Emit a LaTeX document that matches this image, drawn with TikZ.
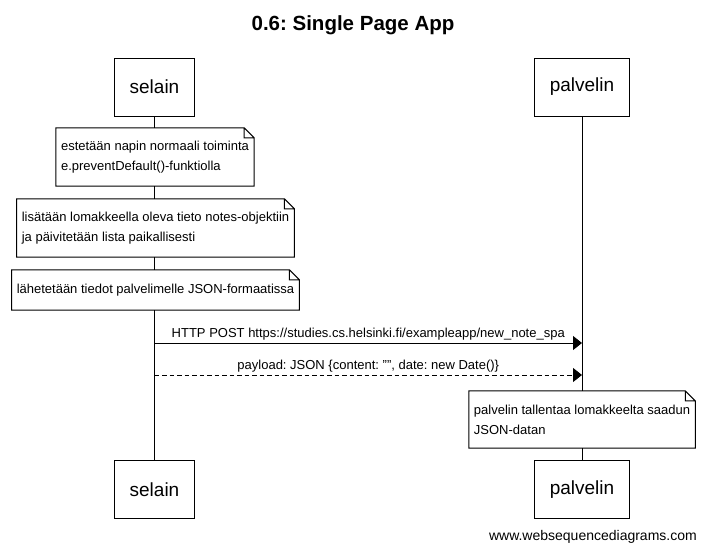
\documentclass[tikz,border=0pt]{standalone}
\usepackage{fontspec}
\setmainfont{Liberation Sans}
\usetikzlibrary{arrows.meta}

\tikzset{
  actor/.style={draw, line width=1pt, fill=white, inner xsep=15pt, minimum height=58pt, font=\fontsize{19}{23}\selectfont},
  note/.style={fill=white, inner xsep=5pt, inner ysep=3pt, align=left, font=\fontsize{13}{20}\selectfont},
  msg/.style={line width=1pt, -{Triangle[length=9pt,width=14pt]}},
  label/.style={above, inner sep=2.5pt, font=\fontsize{13}{16}\selectfont},
}

\begin{document}
\frenchspacing
\begin{tikzpicture}[x=1pt, y=-1pt]
\useasboundingbox (0,0) rectangle (706,552);
\path 
(353,25) node[font=\bfseries\fontsize{20.5}{24}\selectfont] (title) {0.6: Single Page App}
(154.5,87) node[actor] (selain-top) {selain}
(582,87) node[actor] (palvelin-top) {palvelin}
(154.5,489.5) node[actor] (selain-bot) {selain}
(582,489.5) node[actor] (palvelin-bot) {palvelin}
(697,537) node[anchor=east, inner sep=0pt, font=\fontsize{14}{16}\selectfont] (footer) {www.websequencediagrams.com};

\draw[line width=1pt] (selain-top.south) -- (selain-bot.north);
\draw[line width=1pt] (palvelin-top.south) -- (palvelin-bot.north);

\path 
(155,157) node[note, minimum height=58pt] (note-prevent) {estetään napin normaali toiminta\\e.preventDefault()-funktiolla}
(155.5,228) node[note, minimum height=58pt] (note-add) {lisätään lomakkeella oleva tieto notes-objektiin\\ja päivitetään lista paikallisesti}
(155.5,290) node[note, minimum height=40pt] (note-send) {lähetetään tiedot palvelimelle JSON-formaatissa}
(582,419.5) node[note, minimum height=57pt] (note-save) {palvelin tallentaa lomakkeelta saadun\\JSON-datan};

\foreach \n in {note-prevent,note-add,note-send,note-save}
  \draw[line width=1pt] (\n.north west) -- ([xshift=-10pt]\n.north east) -- ([yshift=-10pt]\n.north east) -- (\n.south east) -- (\n.south west) -- cycle
    ([xshift=-10pt]\n.north east) |- ([yshift=-10pt]\n.north east);

\coordinate (post-from) at (selain-top.south |- 0,343);
\coordinate (post-to) at (palvelin-top.south |- 0,343);
\coordinate (json-from) at (selain-top.south |- 0,375);
\coordinate (json-to) at (palvelin-top.south |- 0,375);

\draw[msg] (post-from) -- node[label] {HTTP POST https://studies.cs.helsinki.fi/exampleapp/new\_note\_spa} (post-to);
\draw[msg, dash pattern=on 4.5pt off 3pt] (json-from) -- node[label] {payload: JSON \{content: \symbol{34}\symbol{34}, date: new Date()\}} (json-to);
\end{tikzpicture}
\end{document}
